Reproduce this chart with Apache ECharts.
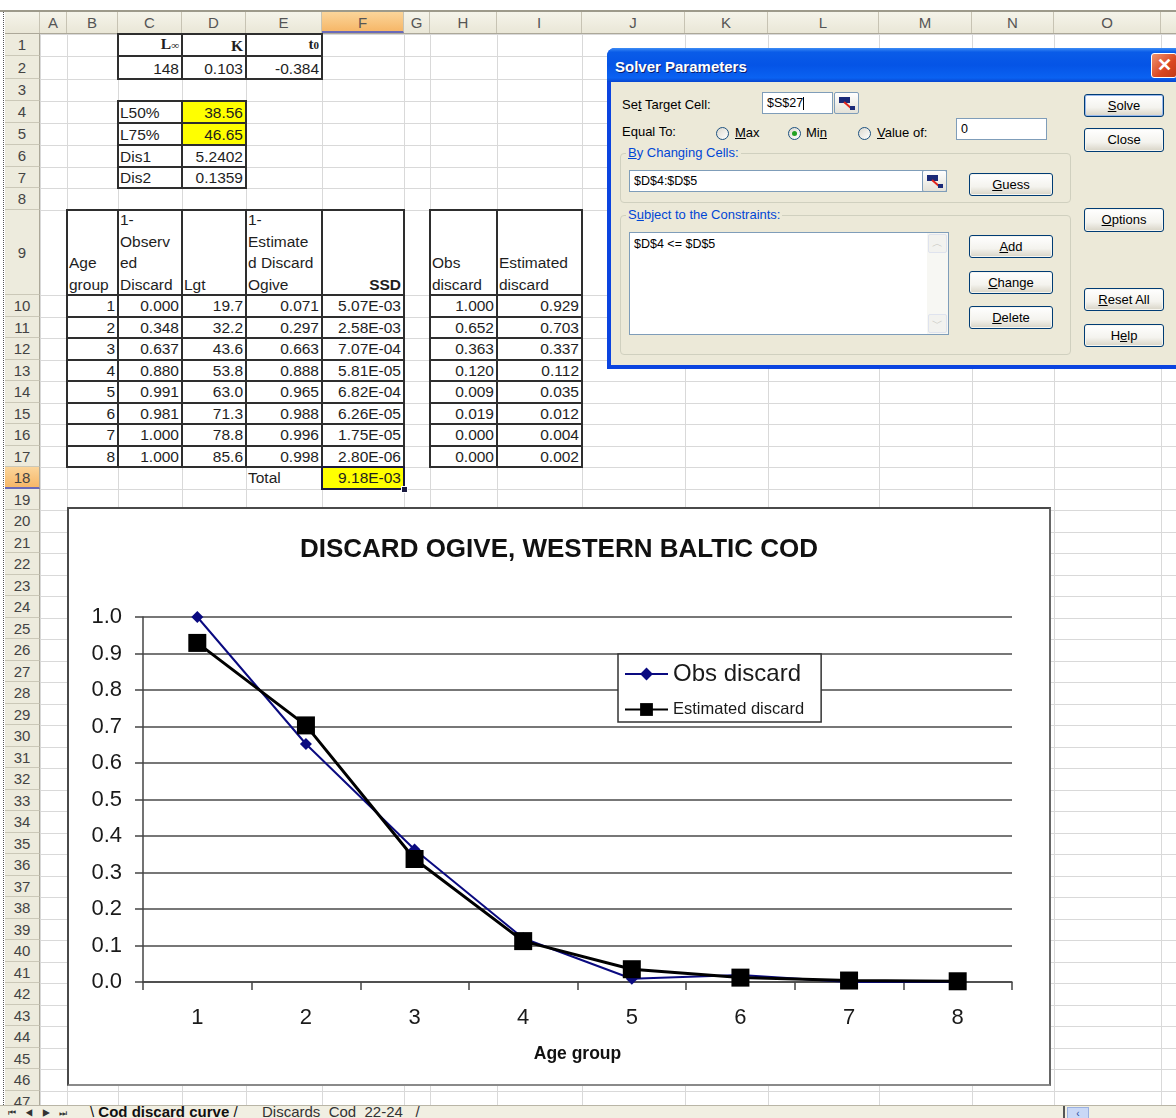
<!DOCTYPE html>
<html>
<head>
<meta charset="utf-8">
<title>Cod discard curve</title>
<script src="https://cdn.jsdelivr.net/npm/echarts@6/dist/echarts.min.js"></script>
<style>
  html, body { margin: 0; padding: 0; background: #fff; }
  body { width: 1176px; height: 1118px; position: relative; overflow: hidden;
         font-family: "Liberation Sans", Arial, sans-serif; }
  #sheet { position: absolute; left: 0; top: 0; width: 1176px; height: 1118px; }
  #chartBox { position: absolute; left: 67px; top: 507px; width: 984px; height: 579px; background: #fff; z-index: 5; }
  #chart { position: absolute; left: 0; top: 0; width: 984px; height: 579px; }
  #chartFrame { position: absolute; left: 67px; top: 507px; width: 984px; height: 579px; box-sizing: border-box;
                border: 2px solid #4a4a4a; border-right-color: #666; border-bottom-color: #8a8a8a; z-index: 6; pointer-events: none; }
  #dlg { position: absolute; left: 607px; top: 48px; width: 600px; height: 321px; z-index: 20;
         background: #0b44e0; border-radius: 8px 8px 0 0; font-size: 13px; color: #000; }
  .btn { position: absolute; box-sizing: border-box; border: 1px solid #003c74; border-radius: 3px;
         background: linear-gradient(#ffffff, #f4f3ee 60%, #d8d4c6); text-align: center; font-size: 13px; color: #000;
         box-shadow: inset 0 0 0 1px #f6f5ef; }
  .inp { position: absolute; box-sizing: border-box; border: 1px solid #7f9db9; background: #fff; font-size: 12.5px;
         padding-left: 4px; }
  .ref { position: absolute; box-sizing: border-box; border: 1px solid #7f9db9; border-radius: 2px;
         background: linear-gradient(#ffffff, #e4e2d8); }
  .radio { position: absolute; width: 13px; height: 13px; box-sizing: border-box; border-radius: 50%;
           border: 1px solid #1c5180; background: linear-gradient(135deg, #dcd9cf, #ffffff); }
  .grp { position: absolute; box-sizing: border-box; border: 1px solid #d0d0bf; border-radius: 4px; }
  #tabs { position: absolute; left: 0; top: 1105px; width: 1176px; height: 13px; background: #f1efe2;
          border-top: 1px solid #b9b5a6; z-index: 8; overflow: hidden; }
</style>
</head>
<body>
<div id="sheet"></div>
<div id="chartBox"><div id="chart"></div></div>
<div id="chartFrame"></div>
<div id="dlg"></div>
<div id="tabs"></div>

<script>
// ---------------- worksheet values ----------------
const ageGroups = [1, 2, 3, 4, 5, 6, 7, 8];
const observedOgive = [0.000, 0.348, 0.637, 0.880, 0.991, 0.981, 1.000, 1.000];   // 1 - observed discard
const lengthAtAge = [19.7, 32.2, 43.6, 53.8, 63.0, 71.3, 78.8, 85.6];
const estimatedOgive = [0.071, 0.297, 0.663, 0.888, 0.965, 0.988, 0.996, 0.998]; // 1 - estimated discard
const ssdValues = ['5.07E-03', '2.58E-03', '7.07E-04', '5.81E-05', '6.82E-04', '6.26E-05', '1.75E-05', '2.80E-06'];
const ssdTotal = '9.18E-03';
const obsDiscard = [1.000, 0.652, 0.363, 0.120, 0.009, 0.019, 0.000, 0.000];
const estDiscard = [0.929, 0.703, 0.337, 0.112, 0.035, 0.012, 0.004, 0.002];
const growthParams = ['148', '0.103', '-0.384'];
const selectivityLabels = ['L50%', 'L75%', 'Dis1', 'Dis2'];
const selectivityValues = ['38.56', '46.65', '5.2402', '0.1359'];
const yTickStep = 0.1;

// ---------------- sheet geometry ----------------
const COLS = ['A','B','C','D','E','F','G','H','I','J','K','L','M','N','O','P'];
const EDGES_X = [5, 40, 67, 118, 182, 246, 322, 404, 430, 497, 582, 685, 768, 879, 972, 1054, 1161, 1270];
const EARLY_ROWS = [34, 56, 79, 101, 123, 145, 167, 188, 210, 295];
function rowTop(r) { return r <= 10 ? EARLY_ROWS[r - 1] : 295 + (r - 10) * 21.5; }
const LAST_ROW = 47;

const sheet = document.getElementById('sheet');
function el(style, html, parent) {
  const d = document.createElement('div');
  d.style.cssText = 'position:absolute;' + style;
  if (html != null) d.innerHTML = html;
  (parent || sheet).appendChild(d);
  return d;
}

// top strip and header band
el('left:0;top:10px;width:1176px;height:2px;background:#9d9a8b;');
el('left:5px;top:12px;width:1171px;height:22px;background:linear-gradient(#f5f4ea,#e9e6d6);');
el('left:5px;top:33px;width:1171px;height:1px;background:#aca899;');
el('left:3px;top:12px;width:1px;height:1093px;border-left:1px dotted #555;');

// cell gridlines
for (let i = 1; i < EDGES_X.length; i++) {
  el(`left:${EDGES_X[i]}px;top:34px;width:1px;height:1071px;background:#d9d9d9;`);
}
for (let r = 1; r <= LAST_ROW + 1; r++) {
  el(`left:40px;top:${rowTop(r)}px;width:1136px;height:1px;background:#d9d9d9;`);
}

// column headers
for (let i = 0; i < COLS.length; i++) {
  const x1 = EDGES_X[i + 1], x2 = EDGES_X[i + 2];
  const sel = COLS[i] === 'F';
  el(`left:${x1}px;top:12px;width:${x2 - x1}px;height:21px;box-sizing:border-box;border-right:1px solid #c7c3b3;` +
     `text-align:center;font-size:15px;line-height:22px;color:#555;` +
     (sel ? 'background:linear-gradient(#fbd59a,#f6b768);border-bottom:2px solid #6a6ab8;' : ''), COLS[i]);
}
el('left:5px;top:12px;width:35px;height:21px;box-sizing:border-box;border-right:1px solid #c7c3b3;');

// row headers
for (let r = 1; r <= LAST_ROW; r++) {
  const y1 = rowTop(r), y2 = rowTop(r + 1);
  const sel = r === 18;
  el(`left:5px;top:${y1}px;width:35px;height:${y2 - y1}px;box-sizing:border-box;border-bottom:1px solid #cbc8b8;` +
     `border-right:1px solid #aca899;text-align:center;font-size:15px;line-height:${y2 - y1}px;color:#444;` +
     (sel ? 'background:linear-gradient(#fbd59a,#f6b768);border-bottom:2px solid #6a6ab8;' : 'background:#edebdd;'), String(r));
}

// cell writer
function cell(col, row, html, o) {
  o = o || {};
  const c = COLS.indexOf(col);
  const x1 = EDGES_X[c + 1], x2 = EDGES_X[c + 2];
  const y1 = rowTop(row), y2 = rowTop(row + 1);
  el(`left:${x1}px;top:${y1}px;width:${x2 - x1}px;height:${y2 - y1}px;box-sizing:border-box;padding:0 3px 0 2px;` +
     `display:flex;flex-direction:column;justify-content:flex-end;text-align:${o.align || 'left'};font-size:15.5px;` +
     `line-height:21.5px;color:#1e1e1e;white-space:nowrap;overflow:visible;background:${o.bg || 'transparent'};${o.css || ''}`,
     `<div>${html}</div>`);
}
function gridBox(c1, r1, c2, r2) {
  const ci1 = COLS.indexOf(c1), ci2 = COLS.indexOf(c2);
  const x1 = EDGES_X[ci1 + 1], x2 = EDGES_X[ci2 + 2];
  const y1 = rowTop(r1), y2 = rowTop(r2 + 1);
  for (let r = r1; r <= r2 + 1; r++) {
    el(`left:${x1 - 1}px;top:${rowTop(r) - 1}px;width:${x2 - x1 + 2}px;height:2px;background:#2e2e2e;`);
  }
  for (let c = ci1; c <= ci2 + 1; c++) {
    el(`left:${EDGES_X[c + 1] - 1}px;top:${y1 - 1}px;width:2px;height:${y2 - y1 + 2}px;background:#2e2e2e;`);
  }
}

// growth parameters block
const serif = "font-family:'Liberation Serif','Times New Roman',serif;font-weight:bold;";
cell('C', 1, `<span style="${serif}">L<span style="font-size:11px">∞</span></span>`, { align: 'right' });
cell('D', 1, `<span style="${serif}">K</span>`, { align: 'right' });
cell('E', 1, `<span style="${serif}font-size:15px">t<span style="font-size:11px">0</span></span>`, { align: 'right' });
['C', 'D', 'E'].forEach((c, i) => cell(c, 2, growthParams[i], { align: 'right' }));

// selectivity block
selectivityLabels.forEach((t, i) => {
  cell('C', 4 + i, t);
  cell('D', 4 + i, selectivityValues[i], { align: 'right', bg: i < 2 ? '#ffff00' : 'transparent' });
});

// ogive table
cell('B', 9, 'Age<br>group');
cell('C', 9, '1-<br>Observ<br>ed<br>Discard');
cell('D', 9, 'Lgt');
cell('E', 9, '1-<br>Estimate<br>d Discard<br>Ogive');
cell('F', 9, '<b>SSD</b>', { align: 'right' });
cell('H', 9, 'Obs<br>discard');
cell('I', 9, 'Estimated<br>discard');
ageGroups.forEach((a, i) => {
  const r = 10 + i;
  cell('B', r, String(a), { align: 'right' });
  cell('C', r, observedOgive[i].toFixed(3), { align: 'right' });
  cell('D', r, lengthAtAge[i].toFixed(1), { align: 'right' });
  cell('E', r, estimatedOgive[i].toFixed(3), { align: 'right' });
  cell('F', r, ssdValues[i], { align: 'right' });
  cell('H', r, obsDiscard[i].toFixed(3), { align: 'right' });
  cell('I', r, estDiscard[i].toFixed(3), { align: 'right' });
});
cell('E', 18, 'Total');
cell('F', 18, ssdTotal, { align: 'right', bg: '#ffff00' });

gridBox('C', 1, 'E', 2);
gridBox('C', 4, 'D', 7);
gridBox('B', 9, 'F', 17);
gridBox('H', 9, 'I', 17);

// active cell F18
(function () {
  const x1 = EDGES_X[6], x2 = EDGES_X[7], y1 = rowTop(18), y2 = rowTop(19);
  el(`left:${x1 - 1}px;top:${y1 - 1}px;width:${x2 - x1 - 2}px;height:${y2 - y1 - 2}px;border:2px solid #1a1a40;`);
  el(`left:${x2 - 3}px;top:${y2 - 3}px;width:5px;height:5px;background:#1a1a40;border:1px solid #fff;`);
})();

// ---------------- chart ----------------
const chart = echarts.init(document.getElementById('chart'), null, { renderer: 'canvas' });
const FONT = "'Liberation Sans', Arial, sans-serif";
chart.setOption({
  animation: false,
  backgroundColor: '#ffffff',
  title: {
    text: 'DISCARD OGIVE, WESTERN BALTIC COD',
    left: 'center',
    top: 25,
    textStyle: { fontFamily: FONT, fontWeight: 'bold', fontSize: 26, color: '#111' }
  },
  legend: {
    orient: 'vertical',
    left: 551,
    top: 147,
    backgroundColor: '#ffffff',
    borderColor: '#333',
    borderWidth: 1.5,
    borderRadius: 0,
    padding: [8, 17, 4, 6],
    itemWidth: 43,
    itemHeight: 16,
    itemGap: 15,
    textStyle: { fontFamily: FONT, color: '#1a1a1a' },
    data: [
      { name: 'Obs discard', textStyle: { fontSize: 24 } },
      { name: 'Estimated discard', textStyle: { fontSize: 16.5 } }
    ]
  },
  grid: { left: 76, right: 39, top: 110, bottom: 104, containLabel: false },
  xAxis: {
    type: 'category',
    data: ageGroups.map(String),
    boundaryGap: true,
    name: 'Age group',
    nameLocation: 'middle',
    nameGap: 63,
    nameTextStyle: { fontFamily: FONT, fontWeight: 'bold', fontSize: 17.5, color: '#111' },
    axisLine: { lineStyle: { color: '#444', width: 1.5 } },
    axisTick: { show: true, length: 8, lineStyle: { color: '#444', width: 1.5 } },
    axisLabel: { fontFamily: FONT, fontSize: 22, color: '#1a1a1a', margin: 25 },
    splitLine: { show: false }
  },
  yAxis: {
    type: 'value',
    min: 0,
    max: 1,
    interval: yTickStep,
    axisLine: { show: true, lineStyle: { color: '#444', width: 1.5 } },
    axisTick: { show: true, length: 8, lineStyle: { color: '#444', width: 1.5 } },
    axisLabel: { fontFamily: FONT, fontSize: 22, color: '#1a1a1a', margin: 21, formatter: v => v.toFixed(1) },
    splitLine: { show: true, lineStyle: { color: '#4a4a4a', width: 1.5 } }
  },
  series: [
    {
      name: 'Obs discard',
      type: 'line',
      data: obsDiscard,
      symbol: 'diamond',
      symbolSize: 12,
      lineStyle: { color: '#0a0a80', width: 2 },
      itemStyle: { color: '#0a0a80' },
      z: 3
    },
    {
      name: 'Estimated discard',
      type: 'line',
      data: estDiscard,
      symbol: 'rect',
      symbolSize: 18,
      lineStyle: { color: '#000', width: 3 },
      itemStyle: { color: '#000' },
      z: 4
    }
  ]
});

// ---------------- Solver dialog ----------------
const dlg = document.getElementById('dlg');
function d(style, html) { return el(style, html, dlg); }
// title bar
d('left:0;top:0;width:600px;height:34px;border-radius:8px 8px 0 0;' +
  'background:linear-gradient(#3d8cf5 0%,#0a5ce8 12%,#0554e6 50%,#0a62f2 88%,#0845cf 100%);');
d('left:8px;top:10px;font-weight:bold;font-size:15px;line-height:18px;color:#fff;text-shadow:1px 1px #0a1e6e;', 'Solver Parameters');
d('left:544px;top:5px;width:26px;height:25px;box-sizing:border-box;border:1px solid #fff;border-radius:3px;' +
  'background:linear-gradient(135deg,#f0936f,#d94722 60%,#c23b18);color:#fff;font-weight:bold;font-size:18px;line-height:22px;text-align:center;', '✕');
// body
d('left:4px;top:34px;width:592px;height:283px;background:#ece9d8;');

function lab(x, y, html, css) { return d(`left:${x}px;top:${y}px;font-size:13px;line-height:16px;white-space:nowrap;${css || ''}`, html); }
function btn(x, y, w, h, html, css) {
  const b = document.createElement('div');
  b.className = 'btn';
  b.style.cssText = `left:${x}px;top:${y}px;width:${w}px;height:${h}px;line-height:${h - 2}px;${css || ''}`;
  b.innerHTML = html;
  dlg.appendChild(b);
}
function inp(x, y, w, h, html) {
  const b = document.createElement('div');
  b.className = 'inp';
  b.style.cssText = `left:${x}px;top:${y}px;width:${w}px;height:${h}px;line-height:${h - 2}px;`;
  b.innerHTML = html;
  dlg.appendChild(b);
}
function refBtn(x, y) {
  const b = document.createElement('div');
  b.className = 'ref';
  b.style.cssText = `left:${x}px;top:${y}px;width:25px;height:22px;`;
  b.innerHTML = '<div style="position:absolute;left:4px;top:4px;width:11px;height:6px;background:#1b2a78;"></div>' +
                '<div style="position:absolute;left:8px;top:11px;width:9px;height:2px;background:#e0241b;transform:rotate(40deg);"></div>' +
                '<div style="position:absolute;left:15px;top:13px;width:5px;height:4px;background:#1b2a78;"></div>';
  dlg.appendChild(b);
}
function radio(cx, cy, on) {
  const r = document.createElement('div');
  r.className = 'radio';
  r.style.cssText = `left:${cx - 6.5}px;top:${cy - 6.5}px;`;
  if (on) r.innerHTML = '<div style="position:absolute;left:3px;top:3px;width:5px;height:5px;border-radius:50%;background:#21a121;"></div>';
  dlg.appendChild(r);
}
function grp(x, y, w, h) {
  const g = document.createElement('div');
  g.className = 'grp';
  g.style.cssText = `left:${x}px;top:${y}px;width:${w}px;height:${h}px;`;
  dlg.appendChild(g);
}

lab(15, 49, 'Se<u>t</u> Target Cell:');
inp(155, 44, 71, 22, '$S$27<span style="display:inline-block;width:1px;height:13px;background:#000;vertical-align:middle;"></span>');
refBtn(227, 44);
btn(477, 46, 80, 23, '<u>S</u>olve', 'border-color:#003c74;box-shadow:inset 0 0 0 1px #98b8ec;');
btn(477, 80, 80, 24, 'Close');

lab(15, 76, 'Equal To:');
radio(115, 85, false); lab(128, 77, '<u>M</u>ax');
radio(187, 85, true);  lab(199, 77, 'Mi<u>n</u>');
radio(257, 85, false); lab(270, 77, '<u>V</u>alue of:');
inp(349, 70, 91, 22, '0');

grp(13, 105, 451, 50);
d('left:19px;top:97px;background:#ece9d8;color:#0046d5;padding:0 2px;font-size:13px;line-height:16px;', '<u>B</u>y Changing Cells:');
inp(22, 122, 318, 22, '$D$4:$D$5');
refBtn(315, 122);
btn(362, 125, 84, 23, '<u>G</u>uess');

grp(13, 167, 451, 140);
d('left:19px;top:159px;background:#ece9d8;color:#0046d5;padding:0 2px;font-size:13px;line-height:16px;', 'S<u>u</u>bject to the Constraints:');
d('left:22px;top:184px;width:320px;height:103px;box-sizing:border-box;border:1px solid #7f9db9;background:#fff;');
d('left:27px;top:189px;font-size:12.5px;line-height:15px;', '$D$4 &lt;= $D$5');
d('left:320px;top:185px;width:21px;height:101px;background:#f7f7f3;');
d('left:321px;top:186px;width:19px;height:19px;box-sizing:border-box;border:1px solid #dfe3ee;border-radius:2px;background:#f2f2ef;' +
  'color:#c6c6c0;font-size:11px;line-height:17px;text-align:center;', '︿');
d('left:321px;top:266px;width:19px;height:19px;box-sizing:border-box;border:1px solid #dfe3ee;border-radius:2px;background:#f2f2ef;' +
  'color:#c6c6c0;font-size:11px;line-height:17px;text-align:center;', '﹀');
btn(362, 187, 84, 23, '<u>A</u>dd');
btn(362, 223, 84, 23, '<u>C</u>hange');
btn(362, 258, 84, 23, '<u>D</u>elete');

btn(477, 160, 80, 24, '<u>O</u>ptions');
btn(477, 240, 80, 23, '<u>R</u>eset All');
btn(477, 276, 80, 23, 'H<u>e</u>lp');

// ---------------- sheet tabs ----------------
const tabs = document.getElementById('tabs');
el('left:8px;top:0px;font-size:9px;line-height:14px;color:#333;letter-spacing:9px;white-space:nowrap;', '⏮◀▶⏭', tabs);
el('left:90px;top:-3px;font-size:15px;line-height:17px;white-space:nowrap;color:#111;', '\\ <b>Cod discard curve</b> /', tabs);
el('left:262px;top:-3px;font-size:15px;line-height:17px;white-space:nowrap;color:#333;', 'Discards&nbsp; Cod&nbsp; 22-24&nbsp;&nbsp; /', tabs);
el('left:1063px;top:0;width:2px;height:13px;background:#555;', '', tabs);
el('left:1067px;top:1px;width:20px;height:12px;background:#c9d8f6;border:1px solid #9ab0e0;font-size:10px;line-height:12px;text-align:center;color:#2a4a9a;', '‹', tabs);
</script>
</body>
</html>
